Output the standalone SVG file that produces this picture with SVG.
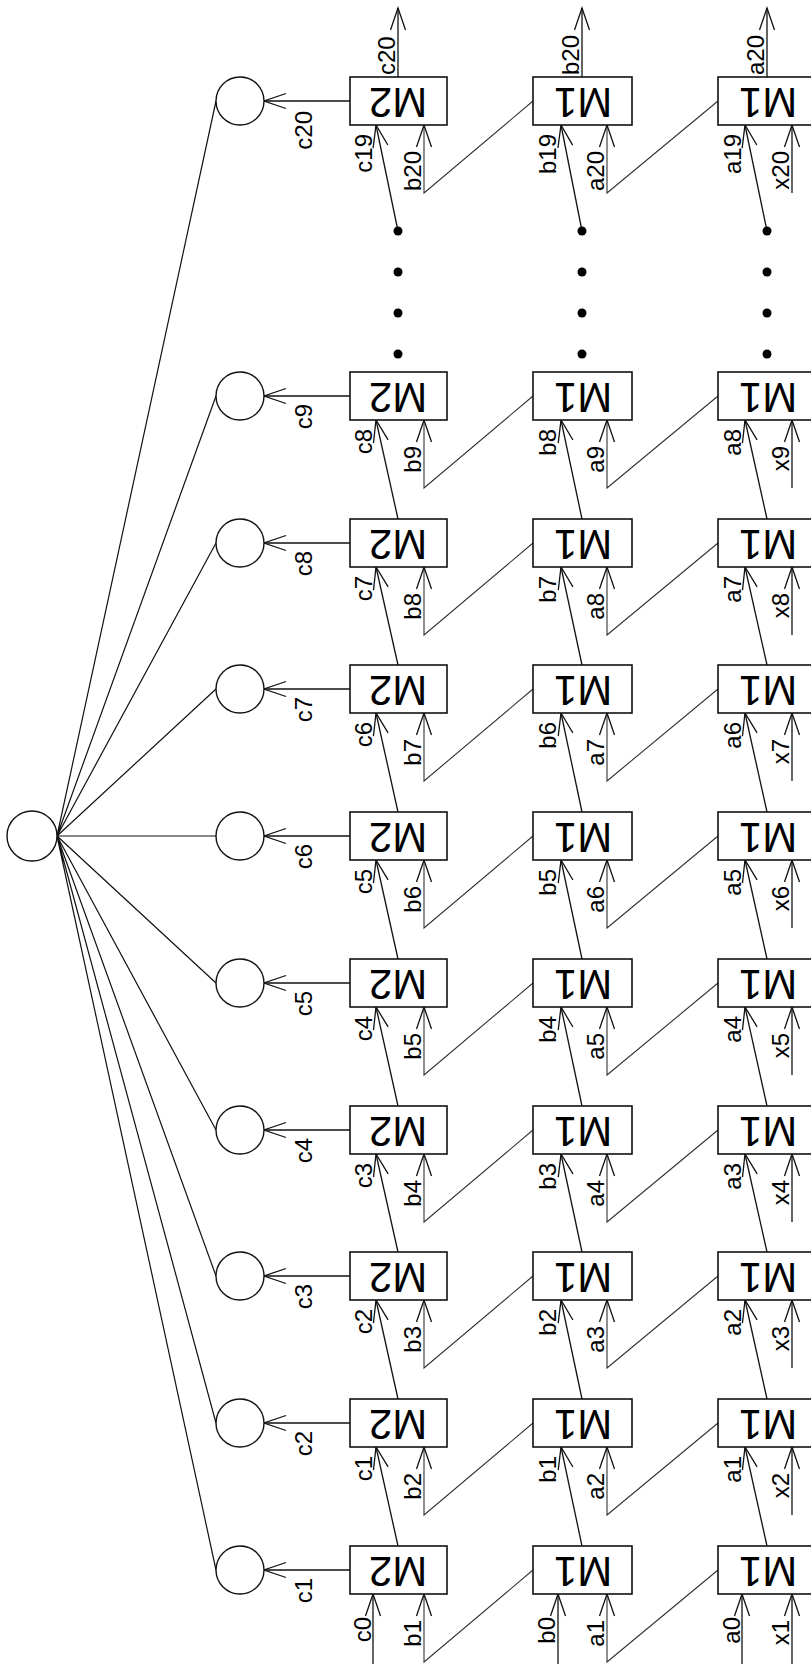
<svg xmlns="http://www.w3.org/2000/svg" width="811" height="1664" viewBox="0 0 811 1664">
<style>
.bx{fill:#fff;stroke:#111;stroke-width:1.6}
.bt{font-family:"Liberation Sans",Arial,sans-serif;font-size:42px;fill:#000}
.lb{font-family:"Liberation Sans",Arial,sans-serif;font-size:24px;fill:#000}
.e{text-anchor:end}
.ci{fill:#fff;stroke:#111;stroke-width:1.4}
.ln{fill:none;stroke:#111;stroke-width:1.3}
.zz{fill:none;stroke:#333;stroke-width:1.1}
.hb{fill:none;stroke:#111;stroke-width:1.2}
.dot{fill:#000}
</style>
<defs>
<marker id="ar" markerUnits="userSpaceOnUse" markerWidth="40" markerHeight="40" refX="0" refY="0" orient="auto" overflow="visible">
<path d="M-22,-7.5 L0,0 L-22,7.5" fill="none" stroke="#111" stroke-width="1.3"/>
</marker>
</defs>
<rect width="811" height="1664" fill="#fff"/>

<g id="connectors">
<!-- hub lines -->
<path class="hb" d="M57,836 L216,1570 M57,836 L216,1423 M57,836 L216,1276 M57,836 L216,1130 M57,836 L216,983 M57,836 L216,836 M57,836 L216,689 M57,836 L216,543 M57,836 L216,396 M57,836 L216,101"/>
<!-- circle arrows -->
<line class="ln" x1="350" y1="1570" x2="264" y2="1570" marker-end="url(#ar)"/>
<line class="ln" x1="350" y1="1423" x2="264" y2="1423" marker-end="url(#ar)"/>
<line class="ln" x1="350" y1="1276" x2="264" y2="1276" marker-end="url(#ar)"/>
<line class="ln" x1="350" y1="1130" x2="264" y2="1130" marker-end="url(#ar)"/>
<line class="ln" x1="350" y1="983" x2="264" y2="983" marker-end="url(#ar)"/>
<line class="ln" x1="350" y1="836" x2="264" y2="836" marker-end="url(#ar)"/>
<line class="ln" x1="350" y1="689" x2="264" y2="689" marker-end="url(#ar)"/>
<line class="ln" x1="350" y1="543" x2="264" y2="543" marker-end="url(#ar)"/>
<line class="ln" x1="350" y1="396" x2="264" y2="396" marker-end="url(#ar)"/>
<line class="ln" x1="350" y1="101" x2="264" y2="101" marker-end="url(#ar)"/>

<!-- row 1 -->
<line class="ln" x1="373" y1="1664" x2="373" y2="1594" marker-end="url(#ar)"/>
<line class="ln" x1="558" y1="1664" x2="558" y2="1594" marker-end="url(#ar)"/>
<line class="ln" x1="742" y1="1664" x2="742" y2="1594" marker-end="url(#ar)"/>
<polyline class="zz" points="533,1570 424,1662 424,1594" marker-end="url(#ar)"/>
<polyline class="zz" points="718,1570 607,1662 607,1594" marker-end="url(#ar)"/>
<line class="ln" x1="792" y1="1664" x2="792" y2="1594" marker-end="url(#ar)"/>

<!-- row 2 -->
<line class="ln" x1="398" y1="1546" x2="376" y2="1447" marker-end="url(#ar)"/>
<line class="ln" x1="582" y1="1546" x2="561" y2="1447" marker-end="url(#ar)"/>
<line class="ln" x1="767" y1="1546" x2="745" y2="1447" marker-end="url(#ar)"/>
<polyline class="zz" points="533,1423 424,1515 424,1447" marker-end="url(#ar)"/>
<polyline class="zz" points="718,1423 607,1515 607,1447" marker-end="url(#ar)"/>
<line class="ln" x1="792" y1="1515" x2="792" y2="1447" marker-end="url(#ar)"/>

<!-- row 3 -->
<line class="ln" x1="398" y1="1399" x2="376" y2="1300" marker-end="url(#ar)"/>
<line class="ln" x1="582" y1="1399" x2="561" y2="1300" marker-end="url(#ar)"/>
<line class="ln" x1="767" y1="1399" x2="745" y2="1300" marker-end="url(#ar)"/>
<polyline class="zz" points="533,1276 424,1368 424,1300" marker-end="url(#ar)"/>
<polyline class="zz" points="718,1276 607,1368 607,1300" marker-end="url(#ar)"/>
<line class="ln" x1="792" y1="1368" x2="792" y2="1300" marker-end="url(#ar)"/>

<!-- row 4 -->
<line class="ln" x1="398" y1="1252" x2="376" y2="1154" marker-end="url(#ar)"/>
<line class="ln" x1="582" y1="1252" x2="561" y2="1154" marker-end="url(#ar)"/>
<line class="ln" x1="767" y1="1252" x2="745" y2="1154" marker-end="url(#ar)"/>
<polyline class="zz" points="533,1130 424,1222 424,1154" marker-end="url(#ar)"/>
<polyline class="zz" points="718,1130 607,1222 607,1154" marker-end="url(#ar)"/>
<line class="ln" x1="792" y1="1222" x2="792" y2="1154" marker-end="url(#ar)"/>

<!-- row 5 -->
<line class="ln" x1="398" y1="1106" x2="376" y2="1007" marker-end="url(#ar)"/>
<line class="ln" x1="582" y1="1106" x2="561" y2="1007" marker-end="url(#ar)"/>
<line class="ln" x1="767" y1="1106" x2="745" y2="1007" marker-end="url(#ar)"/>
<polyline class="zz" points="533,983 424,1075 424,1007" marker-end="url(#ar)"/>
<polyline class="zz" points="718,983 607,1075 607,1007" marker-end="url(#ar)"/>
<line class="ln" x1="792" y1="1075" x2="792" y2="1007" marker-end="url(#ar)"/>

<!-- row 6 -->
<line class="ln" x1="398" y1="959" x2="376" y2="860" marker-end="url(#ar)"/>
<line class="ln" x1="582" y1="959" x2="561" y2="860" marker-end="url(#ar)"/>
<line class="ln" x1="767" y1="959" x2="745" y2="860" marker-end="url(#ar)"/>
<polyline class="zz" points="533,836 424,928 424,860" marker-end="url(#ar)"/>
<polyline class="zz" points="718,836 607,928 607,860" marker-end="url(#ar)"/>
<line class="ln" x1="792" y1="928" x2="792" y2="860" marker-end="url(#ar)"/>

<!-- row 7 -->
<line class="ln" x1="398" y1="812" x2="376" y2="713" marker-end="url(#ar)"/>
<line class="ln" x1="582" y1="812" x2="561" y2="713" marker-end="url(#ar)"/>
<line class="ln" x1="767" y1="812" x2="745" y2="713" marker-end="url(#ar)"/>
<polyline class="zz" points="533,689 424,781 424,713" marker-end="url(#ar)"/>
<polyline class="zz" points="718,689 607,781 607,713" marker-end="url(#ar)"/>
<line class="ln" x1="792" y1="781" x2="792" y2="713" marker-end="url(#ar)"/>

<!-- row 8 -->
<line class="ln" x1="398" y1="665" x2="376" y2="567" marker-end="url(#ar)"/>
<line class="ln" x1="582" y1="665" x2="561" y2="567" marker-end="url(#ar)"/>
<line class="ln" x1="767" y1="665" x2="745" y2="567" marker-end="url(#ar)"/>
<polyline class="zz" points="533,543 424,635 424,567" marker-end="url(#ar)"/>
<polyline class="zz" points="718,543 607,635 607,567" marker-end="url(#ar)"/>
<line class="ln" x1="792" y1="635" x2="792" y2="567" marker-end="url(#ar)"/>

<!-- row 9 -->
<line class="ln" x1="398" y1="519" x2="376" y2="420" marker-end="url(#ar)"/>
<line class="ln" x1="582" y1="519" x2="561" y2="420" marker-end="url(#ar)"/>
<line class="ln" x1="767" y1="519" x2="745" y2="420" marker-end="url(#ar)"/>
<polyline class="zz" points="533,396 424,488 424,420" marker-end="url(#ar)"/>
<polyline class="zz" points="718,396 607,488 607,420" marker-end="url(#ar)"/>
<line class="ln" x1="792" y1="488" x2="792" y2="420" marker-end="url(#ar)"/>

<!-- row 20 -->
<line class="ln" x1="398" y1="231" x2="376" y2="125" marker-end="url(#ar)"/>
<line class="ln" x1="582" y1="231" x2="561" y2="125" marker-end="url(#ar)"/>
<line class="ln" x1="767" y1="231" x2="745" y2="125" marker-end="url(#ar)"/>
<polyline class="zz" points="533,101 424,193 424,125" marker-end="url(#ar)"/>
<polyline class="zz" points="718,101 607,193 607,125" marker-end="url(#ar)"/>
<line class="ln" x1="792" y1="193" x2="792" y2="125" marker-end="url(#ar)"/>
<line class="ln" x1="398" y1="77" x2="398" y2="8" marker-end="url(#ar)"/>
<line class="ln" x1="582" y1="77" x2="582" y2="8" marker-end="url(#ar)"/>
<line class="ln" x1="767" y1="77" x2="767" y2="8" marker-end="url(#ar)"/>

<!-- continuation dots -->
<g class="dot">
<circle cx="398" cy="231" r="4.5"/><circle cx="398" cy="272" r="4.5"/><circle cx="398" cy="313" r="4.5"/><circle cx="398" cy="354" r="4.5"/>
<circle cx="582" cy="231" r="4.5"/><circle cx="582" cy="272" r="4.5"/><circle cx="582" cy="313" r="4.5"/><circle cx="582" cy="354" r="4.5"/>
<circle cx="767" cy="231" r="4.5"/><circle cx="767" cy="272" r="4.5"/><circle cx="767" cy="313" r="4.5"/><circle cx="767" cy="354" r="4.5"/>
</g>

<!-- labels -->
<g class="lb">
<text class="e" transform="translate(371,1617) rotate(-90)">c0</text>
<text class="e" transform="translate(421,1620) rotate(-90)">b1</text>
<text class="e" transform="translate(555,1617) rotate(-90)">b0</text>
<text class="e" transform="translate(604,1620) rotate(-90)">a1</text>
<text class="e" transform="translate(740,1617) rotate(-90)">a0</text>
<text class="e" transform="translate(789,1620) rotate(-90)">x1</text>
<text class="e" transform="translate(312,1578) rotate(-90)">c1</text>

<text class="e" transform="translate(372,1456) rotate(-90)">c1</text>
<text class="e" transform="translate(421,1473) rotate(-90)">b2</text>
<text class="e" transform="translate(556,1456) rotate(-90)">b1</text>
<text class="e" transform="translate(604,1473) rotate(-90)">a2</text>
<text class="e" transform="translate(741,1456) rotate(-90)">a1</text>
<text class="e" transform="translate(789,1473) rotate(-90)">x2</text>
<text class="e" transform="translate(312,1431) rotate(-90)">c2</text>

<text class="e" transform="translate(372,1309) rotate(-90)">c2</text>
<text class="e" transform="translate(421,1326) rotate(-90)">b3</text>
<text class="e" transform="translate(556,1309) rotate(-90)">b2</text>
<text class="e" transform="translate(604,1326) rotate(-90)">a3</text>
<text class="e" transform="translate(741,1309) rotate(-90)">a2</text>
<text class="e" transform="translate(789,1326) rotate(-90)">x3</text>
<text class="e" transform="translate(312,1284) rotate(-90)">c3</text>

<text class="e" transform="translate(372,1163) rotate(-90)">c3</text>
<text class="e" transform="translate(421,1180) rotate(-90)">b4</text>
<text class="e" transform="translate(556,1163) rotate(-90)">b3</text>
<text class="e" transform="translate(604,1180) rotate(-90)">a4</text>
<text class="e" transform="translate(741,1163) rotate(-90)">a3</text>
<text class="e" transform="translate(789,1180) rotate(-90)">x4</text>
<text class="e" transform="translate(312,1138) rotate(-90)">c4</text>

<text class="e" transform="translate(372,1016) rotate(-90)">c4</text>
<text class="e" transform="translate(421,1033) rotate(-90)">b5</text>
<text class="e" transform="translate(556,1016) rotate(-90)">b4</text>
<text class="e" transform="translate(604,1033) rotate(-90)">a5</text>
<text class="e" transform="translate(741,1016) rotate(-90)">a4</text>
<text class="e" transform="translate(789,1033) rotate(-90)">x5</text>
<text class="e" transform="translate(312,991) rotate(-90)">c5</text>

<text class="e" transform="translate(372,869) rotate(-90)">c5</text>
<text class="e" transform="translate(421,886) rotate(-90)">b6</text>
<text class="e" transform="translate(556,869) rotate(-90)">b5</text>
<text class="e" transform="translate(604,886) rotate(-90)">a6</text>
<text class="e" transform="translate(741,869) rotate(-90)">a5</text>
<text class="e" transform="translate(789,886) rotate(-90)">x6</text>
<text class="e" transform="translate(312,844) rotate(-90)">c6</text>

<text class="e" transform="translate(372,722) rotate(-90)">c6</text>
<text class="e" transform="translate(421,739) rotate(-90)">b7</text>
<text class="e" transform="translate(556,722) rotate(-90)">b6</text>
<text class="e" transform="translate(604,739) rotate(-90)">a7</text>
<text class="e" transform="translate(741,722) rotate(-90)">a6</text>
<text class="e" transform="translate(789,739) rotate(-90)">x7</text>
<text class="e" transform="translate(312,697) rotate(-90)">c7</text>

<text class="e" transform="translate(372,576) rotate(-90)">c7</text>
<text class="e" transform="translate(421,593) rotate(-90)">b8</text>
<text class="e" transform="translate(556,576) rotate(-90)">b7</text>
<text class="e" transform="translate(604,593) rotate(-90)">a8</text>
<text class="e" transform="translate(741,576) rotate(-90)">a7</text>
<text class="e" transform="translate(789,593) rotate(-90)">x8</text>
<text class="e" transform="translate(312,551) rotate(-90)">c8</text>

<text class="e" transform="translate(372,429) rotate(-90)">c8</text>
<text class="e" transform="translate(421,446) rotate(-90)">b9</text>
<text class="e" transform="translate(556,429) rotate(-90)">b8</text>
<text class="e" transform="translate(604,446) rotate(-90)">a9</text>
<text class="e" transform="translate(741,429) rotate(-90)">a8</text>
<text class="e" transform="translate(789,446) rotate(-90)">x9</text>
<text class="e" transform="translate(312,404) rotate(-90)">c9</text>

<text class="e" transform="translate(372,134) rotate(-90)">c19</text>
<text class="e" transform="translate(421,151) rotate(-90)">b20</text>
<text class="e" transform="translate(556,134) rotate(-90)">b19</text>
<text class="e" transform="translate(604,151) rotate(-90)">a20</text>
<text class="e" transform="translate(741,134) rotate(-90)">a19</text>
<text class="e" transform="translate(789,151) rotate(-90)">x20</text>
<text class="e" transform="translate(312,111) rotate(-90)">c20</text>
<text transform="translate(395,75) rotate(-90)">c20</text>
<text transform="translate(579,75) rotate(-90)">b20</text>
<text transform="translate(764,75) rotate(-90)">a20</text>
</g>
</g>

<g id="hub"><circle class="ci" cx="32" cy="836" r="25"/></g>
<g id="circle-c1"><circle class="ci" cx="240" cy="1570" r="24"/></g>
<g id="circle-c2"><circle class="ci" cx="240" cy="1423" r="24"/></g>
<g id="circle-c3"><circle class="ci" cx="240" cy="1276" r="24"/></g>
<g id="circle-c4"><circle class="ci" cx="240" cy="1130" r="24"/></g>
<g id="circle-c5"><circle class="ci" cx="240" cy="983" r="24"/></g>
<g id="circle-c6"><circle class="ci" cx="240" cy="836" r="24"/></g>
<g id="circle-c7"><circle class="ci" cx="240" cy="689" r="24"/></g>
<g id="circle-c8"><circle class="ci" cx="240" cy="543" r="24"/></g>
<g id="circle-c9"><circle class="ci" cx="240" cy="396" r="24"/></g>
<g id="circle-c20"><circle class="ci" cx="240" cy="101" r="24"/></g>

<g id="m2-1"><rect class="bx" x="350" y="1546" width="97" height="48"/><text class="bt" text-anchor="middle" transform="translate(398,1557) rotate(180)">M2</text></g>
<g id="m1b-1"><rect class="bx" x="533" y="1546" width="99" height="48"/><text class="bt" text-anchor="middle" transform="translate(583,1557) rotate(180)">M1</text></g>
<g id="m1a-1"><rect class="bx" x="718" y="1546" width="99" height="48"/><text class="bt" text-anchor="middle" transform="translate(768,1557) rotate(180)">M1</text></g>

<g id="m2-2"><rect class="bx" x="350" y="1399" width="97" height="48"/><text class="bt" text-anchor="middle" transform="translate(398,1410) rotate(180)">M2</text></g>
<g id="m1b-2"><rect class="bx" x="533" y="1399" width="99" height="48"/><text class="bt" text-anchor="middle" transform="translate(583,1410) rotate(180)">M1</text></g>
<g id="m1a-2"><rect class="bx" x="718" y="1399" width="99" height="48"/><text class="bt" text-anchor="middle" transform="translate(768,1410) rotate(180)">M1</text></g>

<g id="m2-3"><rect class="bx" x="350" y="1252" width="97" height="48"/><text class="bt" text-anchor="middle" transform="translate(398,1263) rotate(180)">M2</text></g>
<g id="m1b-3"><rect class="bx" x="533" y="1252" width="99" height="48"/><text class="bt" text-anchor="middle" transform="translate(583,1263) rotate(180)">M1</text></g>
<g id="m1a-3"><rect class="bx" x="718" y="1252" width="99" height="48"/><text class="bt" text-anchor="middle" transform="translate(768,1263) rotate(180)">M1</text></g>

<g id="m2-4"><rect class="bx" x="350" y="1106" width="97" height="48"/><text class="bt" text-anchor="middle" transform="translate(398,1117) rotate(180)">M2</text></g>
<g id="m1b-4"><rect class="bx" x="533" y="1106" width="99" height="48"/><text class="bt" text-anchor="middle" transform="translate(583,1117) rotate(180)">M1</text></g>
<g id="m1a-4"><rect class="bx" x="718" y="1106" width="99" height="48"/><text class="bt" text-anchor="middle" transform="translate(768,1117) rotate(180)">M1</text></g>

<g id="m2-5"><rect class="bx" x="350" y="959" width="97" height="48"/><text class="bt" text-anchor="middle" transform="translate(398,970) rotate(180)">M2</text></g>
<g id="m1b-5"><rect class="bx" x="533" y="959" width="99" height="48"/><text class="bt" text-anchor="middle" transform="translate(583,970) rotate(180)">M1</text></g>
<g id="m1a-5"><rect class="bx" x="718" y="959" width="99" height="48"/><text class="bt" text-anchor="middle" transform="translate(768,970) rotate(180)">M1</text></g>

<g id="m2-6"><rect class="bx" x="350" y="812" width="97" height="48"/><text class="bt" text-anchor="middle" transform="translate(398,823) rotate(180)">M2</text></g>
<g id="m1b-6"><rect class="bx" x="533" y="812" width="99" height="48"/><text class="bt" text-anchor="middle" transform="translate(583,823) rotate(180)">M1</text></g>
<g id="m1a-6"><rect class="bx" x="718" y="812" width="99" height="48"/><text class="bt" text-anchor="middle" transform="translate(768,823) rotate(180)">M1</text></g>

<g id="m2-7"><rect class="bx" x="350" y="665" width="97" height="48"/><text class="bt" text-anchor="middle" transform="translate(398,676) rotate(180)">M2</text></g>
<g id="m1b-7"><rect class="bx" x="533" y="665" width="99" height="48"/><text class="bt" text-anchor="middle" transform="translate(583,676) rotate(180)">M1</text></g>
<g id="m1a-7"><rect class="bx" x="718" y="665" width="99" height="48"/><text class="bt" text-anchor="middle" transform="translate(768,676) rotate(180)">M1</text></g>

<g id="m2-8"><rect class="bx" x="350" y="519" width="97" height="48"/><text class="bt" text-anchor="middle" transform="translate(398,530) rotate(180)">M2</text></g>
<g id="m1b-8"><rect class="bx" x="533" y="519" width="99" height="48"/><text class="bt" text-anchor="middle" transform="translate(583,530) rotate(180)">M1</text></g>
<g id="m1a-8"><rect class="bx" x="718" y="519" width="99" height="48"/><text class="bt" text-anchor="middle" transform="translate(768,530) rotate(180)">M1</text></g>

<g id="m2-9"><rect class="bx" x="350" y="372" width="97" height="48"/><text class="bt" text-anchor="middle" transform="translate(398,383) rotate(180)">M2</text></g>
<g id="m1b-9"><rect class="bx" x="533" y="372" width="99" height="48"/><text class="bt" text-anchor="middle" transform="translate(583,383) rotate(180)">M1</text></g>
<g id="m1a-9"><rect class="bx" x="718" y="372" width="99" height="48"/><text class="bt" text-anchor="middle" transform="translate(768,383) rotate(180)">M1</text></g>

<g id="m2-20"><rect class="bx" x="350" y="77" width="97" height="48"/><text class="bt" text-anchor="middle" transform="translate(398,88) rotate(180)">M2</text></g>
<g id="m1b-20"><rect class="bx" x="533" y="77" width="99" height="48"/><text class="bt" text-anchor="middle" transform="translate(583,88) rotate(180)">M1</text></g>
<g id="m1a-20"><rect class="bx" x="718" y="77" width="99" height="48"/><text class="bt" text-anchor="middle" transform="translate(768,88) rotate(180)">M1</text></g>
</svg>
